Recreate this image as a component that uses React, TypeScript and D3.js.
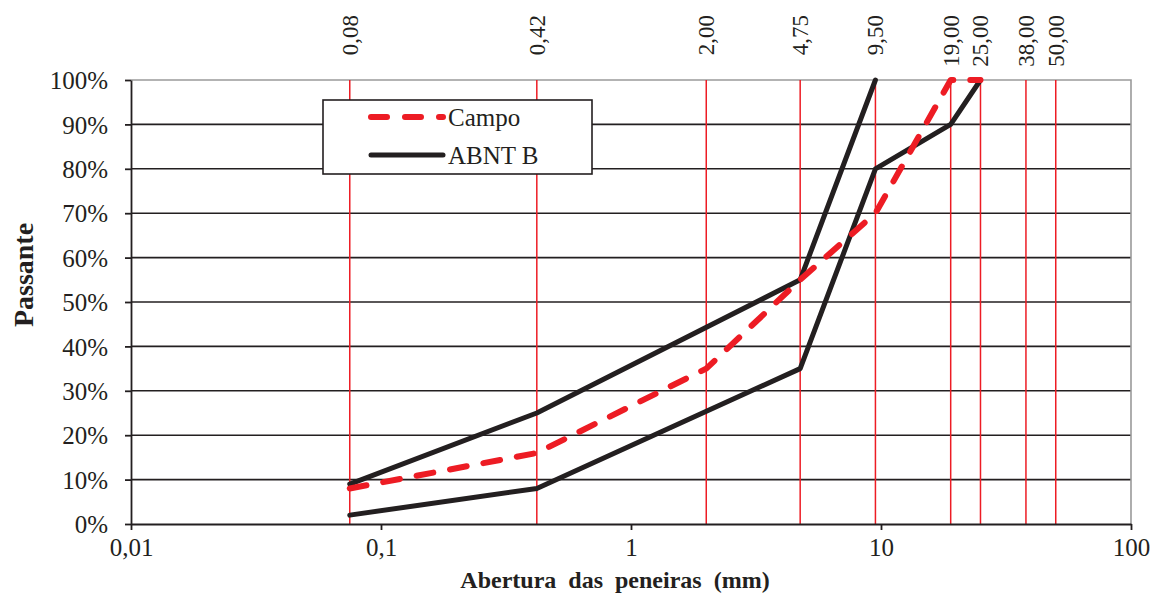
// @ts-nocheck
import React, { useEffect, useRef } from "react";
import * as d3 from "d3";

// sieve openings (mm) and their printed labels
const sieves = [0.075, 0.42, 2.0, 4.75, 9.5, 19.0, 25.0, 38.0, 50.0];
const sieveLabels = ["0,08", "0,42", "2,00", "4,75", "9,50", "19,00", "25,00", "38,00", "50,00"];

// passing (%) per series
const campo = [
  [0.075, 8], [0.42, 16], [2.0, 35], [4.75, 55], [9.5, 70], [19.0, 100], [25.0, 100]
];
const abntSup = [
  [0.075, 9], [0.42, 25], [4.75, 55], [9.5, 100]
];
const abntInf = [
  [0.075, 2], [0.42, 8], [4.75, 35], [9.5, 80], [19.0, 90], [25.0, 100]
];

const xTicks = [0.01, 0.1, 1, 10, 100];
const xTickLabels = ["0,01", "0,1", "1", "10", "100"];
const yTicks = [0, 10, 20, 30, 40, 50, 60, 70, 80, 90, 100];

const FONT = "'Liberation Serif', 'Times New Roman', serif";

export default function App() {
  const svgRef = useRef(null);

  useEffect(() => {
    document.body.style.margin = "0";
    const width = 1155;
    const height = 594;
    const marginLeft = 131, marginRight = 24, marginTop = 80, marginBottom = 70;

    const x = d3.scaleLog([0.01, 100], [marginLeft, width - marginRight]);
    const y = d3.scaleLinear([0, 100], [height - marginBottom, marginTop]);

    const svg = d3.select(svgRef.current);
    svg.selectAll("*").remove();
    svg.attr("width", width).attr("height", height).attr("viewBox", [0, 0, width, height]);

    // horizontal grid
    svg.append("g")
      .selectAll("line")
      .data(yTicks.filter((d) => d > 0 && d < 100))
      .join("line")
      .attr("x1", x(0.01)).attr("x2", x(100))
      .attr("y1", (d) => y(d)).attr("y2", (d) => y(d))
      .attr("stroke", "#231f20").attr("stroke-width", 1.6);

    // plot frame top/right in grey
    svg.append("path")
      .attr("d", `M${x(0.01)},${y(100)}H${x(100)}V${y(0)}`)
      .attr("fill", "none").attr("stroke", "#9a9a9a").attr("stroke-width", 1.6);

    // red sieve lines
    svg.append("g")
      .selectAll("line")
      .data(sieves)
      .join("line")
      .attr("x1", (d) => x(d)).attr("x2", (d) => x(d))
      .attr("y1", y(100)).attr("y2", y(0))
      .attr("stroke", "#ed1c24").attr("stroke-width", 1.5);

    // sieve labels on top
    svg.append("g")
      .selectAll("text")
      .data(sieves)
      .join("text")
      .attr("transform", (d) => `translate(${x(d) + 8},15) rotate(-90)`)
      .attr("text-anchor", "end")
      .attr("font-family", FONT).attr("font-size", 23).attr("fill", "#231f20")
      .text((d, i) => sieveLabels[i]);

    // axes
    const yAxis = d3.axisLeft(y).tickValues(yTicks).tickFormat((d) => d + "%").tickSize(6).tickSizeOuter(0);
    svg.append("g")
      .attr("transform", `translate(${marginLeft},0)`)
      .call(yAxis)
      .call((g) => g.selectAll("line, path").attr("stroke", "#231f20").attr("stroke-width", 1.8))
      .call((g) => g.selectAll("text")
        .attr("font-family", FONT).attr("font-size", 25).attr("fill", "#231f20")
        .attr("x", -23).attr("dy", "0.35em"));

    const xAxis = d3.axisBottom(x).tickValues(xTicks).tickFormat((d, i) => xTickLabels[i]).tickSize(6).tickSizeOuter(0);
    svg.append("g")
      .attr("transform", `translate(0,${y(0)})`)
      .call(xAxis)
      .call((g) => g.selectAll("line, path").attr("stroke", "#231f20").attr("stroke-width", 1.8))
      .call((g) => g.selectAll("text")
        .attr("font-family", FONT).attr("font-size", 25).attr("fill", "#231f20")
        .attr("y", 14));

    // series
    const line = d3.line().x((d) => x(d[0])).y((d) => y(d[1]));
    [abntSup, abntInf].forEach((s) => {
      svg.append("path")
        .attr("d", line(s))
        .attr("fill", "none").attr("stroke", "#231f20").attr("stroke-width", 5)
        .attr("stroke-linejoin", "round").attr("stroke-linecap", "round");
    });
    svg.append("path")
      .attr("d", line(campo))
      .attr("fill", "none").attr("stroke", "#ed1c24").attr("stroke-width", 6)
      .attr("stroke-dasharray", "17,17")
      .attr("stroke-linecap", "round").attr("stroke-linejoin", "round");

    // axis titles
    svg.append("text")
      .attr("x", 615).attr("y", 588)
      .attr("text-anchor", "middle")
      .attr("font-family", FONT).attr("font-size", 24).attr("font-weight", "bold")
      .attr("fill", "#231f20").attr("word-spacing", 6)
      .text("Abertura das peneiras (mm)");
    svg.append("text")
      .attr("transform", "translate(33,275) rotate(-90)")
      .attr("text-anchor", "middle")
      .attr("font-family", FONT).attr("font-size", 28).attr("font-weight", "bold")
      .attr("fill", "#231f20")
      .text("Passante");

    // legend
    const lg = svg.append("g").attr("transform", "translate(323,100)");
    lg.append("rect").attr("width", 269).attr("height", 74)
      .attr("fill", "white").attr("stroke", "#231f20").attr("stroke-width", 1.6);
    lg.append("line").attr("x1", 48).attr("x2", 120).attr("y1", 17).attr("y2", 17)
      .attr("stroke", "#ed1c24").attr("stroke-width", 6)
      .attr("stroke-dasharray", "16,18").attr("stroke-linecap", "round");
    lg.append("line").attr("x1", 48).attr("x2", 120).attr("y1", 55).attr("y2", 55)
      .attr("stroke", "#231f20").attr("stroke-width", 5).attr("stroke-linecap", "round");
    lg.append("text").attr("x", 125).attr("y", 26)
      .attr("font-family", FONT).attr("font-size", 25).attr("fill", "#231f20").text("Campo");
    lg.append("text").attr("x", 125).attr("y", 64)
      .attr("font-family", FONT).attr("font-size", 25).attr("fill", "#231f20").text("ABNT B");
  }, []);

  return <svg ref={svgRef} style={{ display: "block" }} />;
}
